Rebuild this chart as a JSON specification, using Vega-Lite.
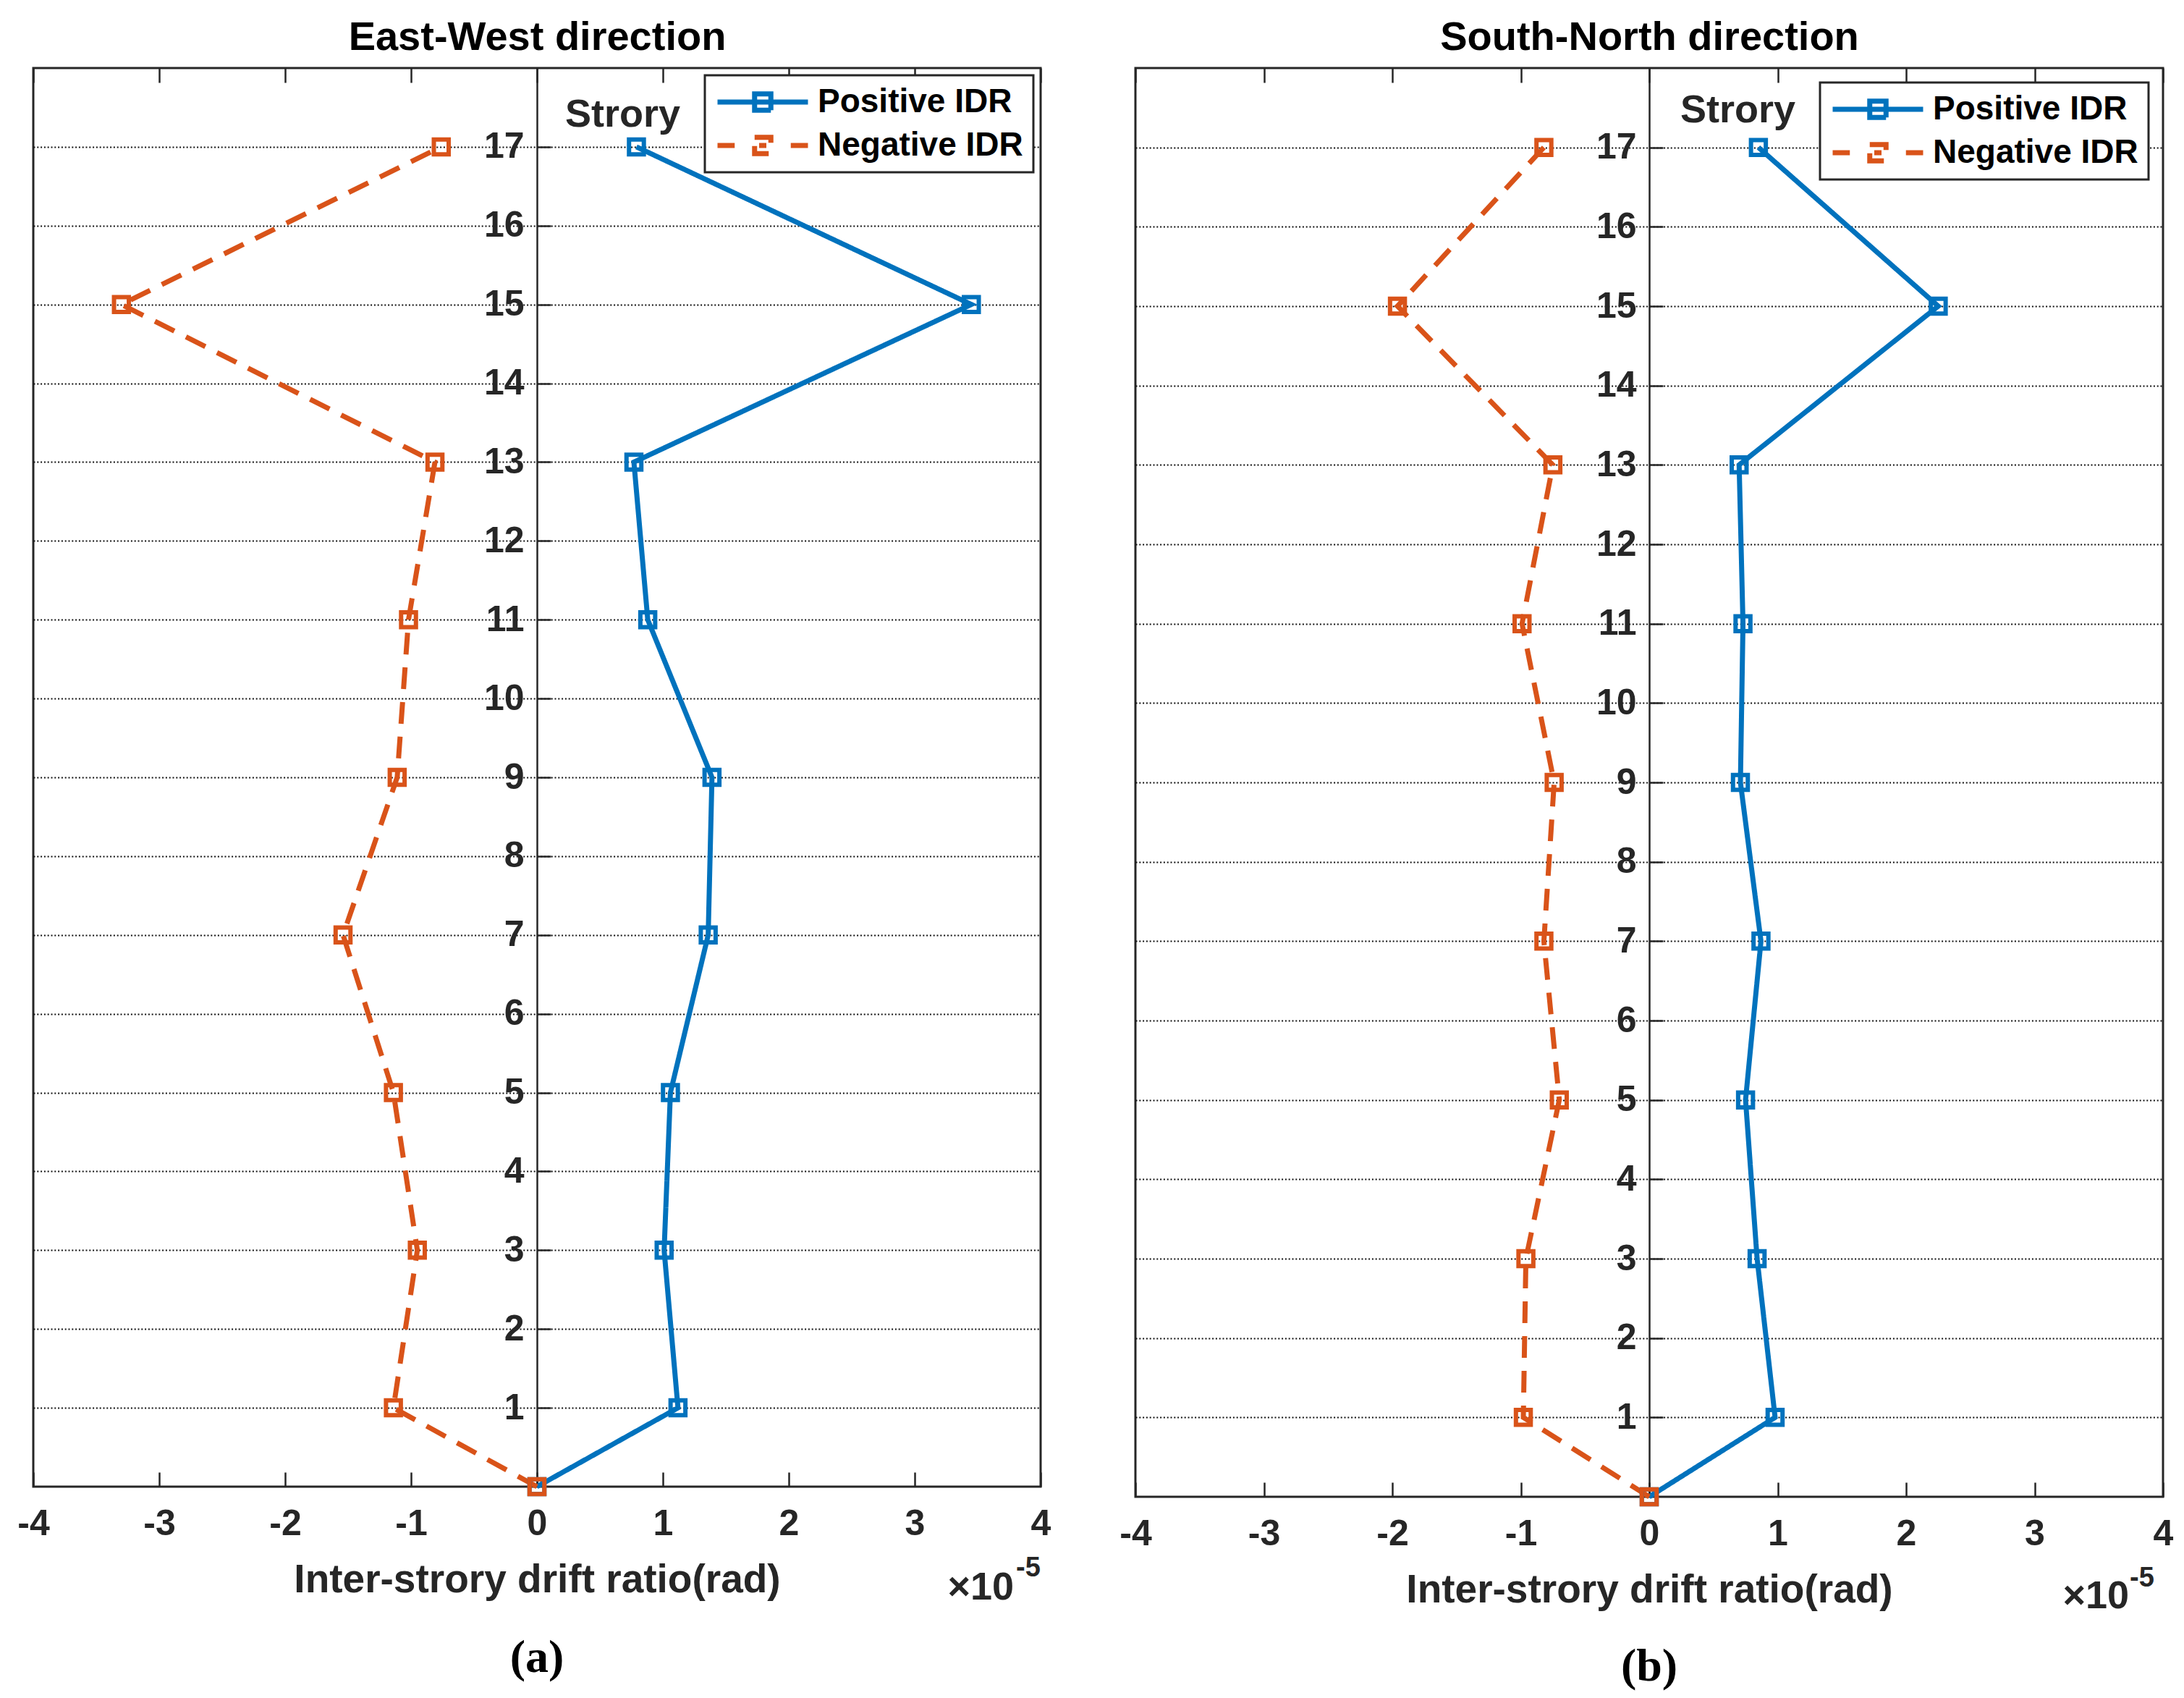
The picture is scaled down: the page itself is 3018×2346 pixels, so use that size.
{
  "$schema": "https://vega.github.io/schema/vega-lite/v6.json",
  "background": "white",
  "padding": {"left": 22, "top": 22, "right": 10, "bottom": 10},
  "datasets": {
    "ew": [
      {"story": 0, "drift": 0, "direction": "Positive IDR"},
      {"story": 1, "drift": 1.12, "direction": "Positive IDR"},
      {"story": 3, "drift": 1.01, "direction": "Positive IDR"},
      {"story": 5, "drift": 1.06, "direction": "Positive IDR"},
      {"story": 7, "drift": 1.36, "direction": "Positive IDR"},
      {"story": 9, "drift": 1.39, "direction": "Positive IDR"},
      {"story": 11, "drift": 0.88, "direction": "Positive IDR"},
      {"story": 13, "drift": 0.77, "direction": "Positive IDR"},
      {"story": 15, "drift": 3.45, "direction": "Positive IDR"},
      {"story": 17, "drift": 0.79, "direction": "Positive IDR"},
      {"story": 0, "drift": 0, "direction": "Negative IDR"},
      {"story": 1, "drift": -1.14, "direction": "Negative IDR"},
      {"story": 3, "drift": -0.95, "direction": "Negative IDR"},
      {"story": 5, "drift": -1.14, "direction": "Negative IDR"},
      {"story": 7, "drift": -1.54, "direction": "Negative IDR"},
      {"story": 9, "drift": -1.11, "direction": "Negative IDR"},
      {"story": 11, "drift": -1.02, "direction": "Negative IDR"},
      {"story": 13, "drift": -0.81, "direction": "Negative IDR"},
      {"story": 15, "drift": -3.30, "direction": "Negative IDR"},
      {"story": 17, "drift": -0.76, "direction": "Negative IDR"}
    ],
    "sn": [
      {"story": 0, "drift": 0, "direction": "Positive IDR"},
      {"story": 1, "drift": 0.98, "direction": "Positive IDR"},
      {"story": 3, "drift": 0.84, "direction": "Positive IDR"},
      {"story": 5, "drift": 0.75, "direction": "Positive IDR"},
      {"story": 7, "drift": 0.87, "direction": "Positive IDR"},
      {"story": 9, "drift": 0.71, "direction": "Positive IDR"},
      {"story": 11, "drift": 0.73, "direction": "Positive IDR"},
      {"story": 13, "drift": 0.70, "direction": "Positive IDR"},
      {"story": 15, "drift": 2.25, "direction": "Positive IDR"},
      {"story": 17, "drift": 0.85, "direction": "Positive IDR"},
      {"story": 0, "drift": 0, "direction": "Negative IDR"},
      {"story": 1, "drift": -0.98, "direction": "Negative IDR"},
      {"story": 3, "drift": -0.96, "direction": "Negative IDR"},
      {"story": 5, "drift": -0.70, "direction": "Negative IDR"},
      {"story": 7, "drift": -0.82, "direction": "Negative IDR"},
      {"story": 9, "drift": -0.74, "direction": "Negative IDR"},
      {"story": 11, "drift": -0.99, "direction": "Negative IDR"},
      {"story": 13, "drift": -0.75, "direction": "Negative IDR"},
      {"story": 15, "drift": -1.96, "direction": "Negative IDR"},
      {"story": 17, "drift": -0.82, "direction": "Negative IDR"}
    ]
  },
  "bounds": "flush",
  "spacing": 131,
  "resolve": {"scale": {"color": "independent", "strokeDash": "independent"}},
  "hconcat": [
    {
      "width": 1392,
      "height": 1960,
      "data": {"name": "ew"},
      "title": {"text": "(a)", "orient": "bottom", "font": "Liberation Serif", "fontSize": 64, "fontWeight": "bold", "color": "black", "offset": 38},
      "layer": [
        {
          "mark": {"type": "line", "strokeWidth": 7},
          "encoding": {
            "x": {
              "field": "drift", "type": "quantitative",
              "scale": {"domain": [-4, 4], "nice": false, "zero": false},
              "axis": {
                "orient": "bottom", "values": [-4, -3, -2, -1, 0, 1, 2, 3, 4],
                "labelExpr": "'' + datum.value", "labelFlush": false, "labelOverlap": false,
                "tickSize": -20, "tickWidth": 2.5, "tickColor": "#262626",
                "labelPadding": 46, "labelFontSize": 50, "labelColor": "#262626",
                "domain": false, "grid": false,
                "title": "Inter-strory drift ratio(rad)", "titleFontSize": 55, "titleColor": "#262626", "titlePadding": 26
              }
            },
            "y": {
              "field": "story", "type": "quantitative",
              "scale": {"domain": [0, 18], "nice": false},
              "axis": {
                "orient": "left", "offset": -696, "values": [1, 2, 3, 4, 5, 6, 7, 8, 9, 10, 11, 12, 13, 14, 15, 16, 17],
                "ticks": false, "domain": true, "domainColor": "#262626", "domainWidth": 2.5,
                "labelPadding": 18, "labelFontSize": 50, "labelColor": "#262626",
                "grid": true, "gridDash": [2, 2.8], "gridColor": "#111111", "gridWidth": 2.2, "gridOpacity": 1,
                "title": "Strory", "titleAngle": 0, "titleX": 118, "titleY": 64, "titleAlign": "center", "titleBaseline": "middle",
                "titleFontSize": 54, "titleColor": "#262626"
              }
            },
            "order": {"field": "story", "type": "quantitative"},
            "color": {
              "field": "direction", "type": "nominal",
              "scale": {"domain": ["Positive IDR", "Negative IDR"], "range": ["#0072BD", "#D95319"]},
              "legend": {
                "orient": "top-right", "offset": 10, "title": null, "padding": 14,
                "strokeColor": "#262626", "fillColor": "white",
                "symbolSize": 15625, "symbolStrokeWidth": 7, "symbolOffset": 0,
                "clipHeight": 46, "rowPadding": 14,
                "labelFontSize": 46, "labelFontWeight": "bold", "labelColor": "black", "labelOffset": 10, "labelLimit": 600,
                "encode": {
                  "legend": {"update": {"strokeWidth": {"value": 3}}},
                  "symbols": {"update": {
                    "shape": {"signal": "datum.value === 'Negative IDR' ? 'M-1,0H-0.62M-0.18,-0.18H0.18V0.18H-0.18ZM-0.08,0H0.08M0.62,0H1' : 'M-1,0H1M-0.18,-0.18H0.18V0.18H-0.18Z'"},
                    "fill": {"value": "transparent"},
                    "strokeWidth": {"value": 7}
                  }}
                }
              }
            },
            "strokeDash": {
              "field": "direction", "type": "nominal",
              "scale": {"domain": ["Positive IDR", "Negative IDR"], "range": [[1, 0], [30, 18]]},
              "legend": null
            }
          }
        },
        {
          "mark": {"type": "point", "shape": "square", "filled": false, "size": 420, "strokeWidth": 6, "opacity": 1},
          "encoding": {
            "x": {
              "field": "drift", "type": "quantitative",
              "axis": {
                "orient": "top", "values": [-4, -3, -2, -1, 0, 1, 2, 3, 4],
                "labels": false, "domain": false, "grid": false,
                "tickSize": -20, "tickWidth": 2.5, "tickColor": "#262626",
                "title": "East-West direction", "titleFontSize": 56, "titleColor": "black", "titlePadding": 12
              }
            },
            "y": {
              "field": "story", "type": "quantitative",
              "axis": {
                "orient": "right", "offset": -696, "values": [1, 2, 3, 4, 5, 6, 7, 8, 9, 10, 11, 12, 13, 14, 15, 16, 17],
                "labels": false, "domain": false, "grid": false,
                "tickSize": 19, "tickWidth": 2.5, "tickColor": "#262626", "title": null
              }
            },
            "color": {"field": "direction", "type": "nominal", "legend": null}
          }
        },
        {
          "data": {"values": [{}]},
          "mark": {"type": "text", "text": "×10", "align": "right", "baseline": "middle", "dx": -37, "dy": 140, "fontSize": 54, "fontWeight": "bold", "color": "#262626", "font": "Liberation Sans"},
          "encoding": {
            "x": {"datum": 4, "type": "quantitative", "axis": null},
            "y": {"datum": 0, "type": "quantitative", "axis": null}
          }
        },
        {
          "data": {"values": [{}]},
          "mark": {"type": "text", "text": "-5", "align": "left", "baseline": "middle", "dx": -34, "dy": 113, "fontSize": 38, "fontWeight": "bold", "color": "#262626", "font": "Liberation Sans"},
          "encoding": {
            "x": {"datum": 4, "type": "quantitative", "axis": null},
            "y": {"datum": 0, "type": "quantitative", "axis": null}
          }
        }
      ]
    },
    {
      "width": 1420,
      "height": 1974,
      "data": {"name": "sn"},
      "title": {"text": "(b)", "orient": "bottom", "font": "Liberation Serif", "fontSize": 64, "fontWeight": "bold", "color": "black", "offset": 38},
      "layer": [
        {
          "mark": {"type": "line", "strokeWidth": 7},
          "encoding": {
            "x": {
              "field": "drift", "type": "quantitative",
              "scale": {"domain": [-4, 4], "nice": false, "zero": false},
              "axis": {
                "orient": "bottom", "values": [-4, -3, -2, -1, 0, 1, 2, 3, 4],
                "labelExpr": "'' + datum.value", "labelFlush": false, "labelOverlap": false,
                "tickSize": -20, "tickWidth": 2.5, "tickColor": "#262626",
                "labelPadding": 46, "labelFontSize": 50, "labelColor": "#262626",
                "domain": false, "grid": false,
                "title": "Inter-strory drift ratio(rad)", "titleFontSize": 55, "titleColor": "#262626", "titlePadding": 26
              }
            },
            "y": {
              "field": "story", "type": "quantitative",
              "scale": {"domain": [0, 18], "nice": false},
              "axis": {
                "orient": "left", "offset": -710, "values": [1, 2, 3, 4, 5, 6, 7, 8, 9, 10, 11, 12, 13, 14, 15, 16, 17],
                "ticks": false, "domain": true, "domainColor": "#262626", "domainWidth": 2.5,
                "labelPadding": 18, "labelFontSize": 50, "labelColor": "#262626",
                "grid": true, "gridDash": [2, 2.8], "gridColor": "#111111", "gridWidth": 2.2, "gridOpacity": 1,
                "title": "Strory", "titleAngle": 0, "titleX": 122, "titleY": 58, "titleAlign": "center", "titleBaseline": "middle",
                "titleFontSize": 54, "titleColor": "#262626"
              }
            },
            "order": {"field": "story", "type": "quantitative"},
            "color": {
              "field": "direction", "type": "nominal",
              "scale": {"domain": ["Positive IDR", "Negative IDR"], "range": ["#0072BD", "#D95319"]},
              "legend": {
                "orient": "top-right", "offset": 20, "title": null, "padding": 14,
                "strokeColor": "#262626", "fillColor": "white",
                "symbolSize": 15625, "symbolStrokeWidth": 7, "symbolOffset": 0,
                "clipHeight": 46, "rowPadding": 14,
                "labelFontSize": 46, "labelFontWeight": "bold", "labelColor": "black", "labelOffset": 10, "labelLimit": 600,
                "encode": {
                  "legend": {"update": {"strokeWidth": {"value": 3}}},
                  "symbols": {"update": {
                    "shape": {"signal": "datum.value === 'Negative IDR' ? 'M-1,0H-0.62M-0.18,-0.18H0.18V0.18H-0.18ZM-0.08,0H0.08M0.62,0H1' : 'M-1,0H1M-0.18,-0.18H0.18V0.18H-0.18Z'"},
                    "fill": {"value": "transparent"},
                    "strokeWidth": {"value": 7}
                  }}
                }
              }
            },
            "strokeDash": {
              "field": "direction", "type": "nominal",
              "scale": {"domain": ["Positive IDR", "Negative IDR"], "range": [[1, 0], [30, 18]]},
              "legend": null
            }
          }
        },
        {
          "mark": {"type": "point", "shape": "square", "filled": false, "size": 420, "strokeWidth": 6, "opacity": 1},
          "encoding": {
            "x": {
              "field": "drift", "type": "quantitative",
              "axis": {
                "orient": "top", "values": [-4, -3, -2, -1, 0, 1, 2, 3, 4],
                "labels": false, "domain": false, "grid": false,
                "tickSize": -20, "tickWidth": 2.5, "tickColor": "#262626",
                "title": "South-North direction", "titleFontSize": 56, "titleColor": "black", "titlePadding": 12
              }
            },
            "y": {
              "field": "story", "type": "quantitative",
              "axis": {
                "orient": "right", "offset": -710, "values": [1, 2, 3, 4, 5, 6, 7, 8, 9, 10, 11, 12, 13, 14, 15, 16, 17],
                "labels": false, "domain": false, "grid": false,
                "tickSize": 19, "tickWidth": 2.5, "tickColor": "#262626", "title": null
              }
            },
            "color": {"field": "direction", "type": "nominal", "legend": null}
          }
        },
        {
          "data": {"values": [{}]},
          "mark": {"type": "text", "text": "×10", "align": "right", "baseline": "middle", "dx": -47, "dy": 138, "fontSize": 54, "fontWeight": "bold", "color": "#262626", "font": "Liberation Sans"},
          "encoding": {
            "x": {"datum": 4, "type": "quantitative", "axis": null},
            "y": {"datum": 0, "type": "quantitative", "axis": null}
          }
        },
        {
          "data": {"values": [{}]},
          "mark": {"type": "text", "text": "-5", "align": "left", "baseline": "middle", "dx": -46, "dy": 113, "fontSize": 38, "fontWeight": "bold", "color": "#262626", "font": "Liberation Sans"},
          "encoding": {
            "x": {"datum": 4, "type": "quantitative", "axis": null},
            "y": {"datum": 0, "type": "quantitative", "axis": null}
          }
        }
      ]
    }
  ],
  "config": {
    "view": {"stroke": "#262626", "strokeWidth": 3},
    "font": "Liberation Sans",
    "axis": {"labelFont": "Liberation Sans", "titleFont": "Liberation Sans", "labelFontWeight": "bold", "titleFontWeight": "bold"},
    "legend": {"labelFont": "Liberation Sans"},
    "title": {"font": "Liberation Sans"}
  }
}
